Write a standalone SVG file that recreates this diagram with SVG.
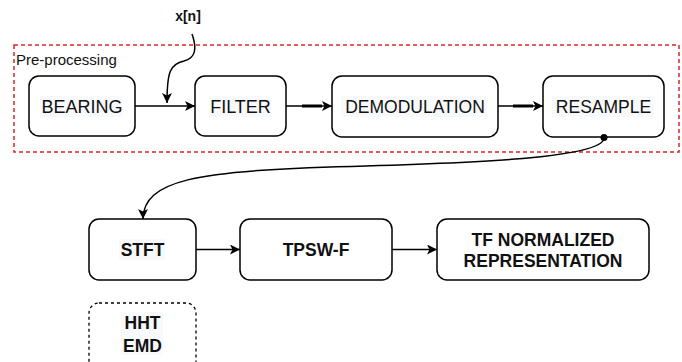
<svg xmlns="http://www.w3.org/2000/svg" width="682" height="362" viewBox="0 0 682 362">
<style>
.box{fill:#ffffff;stroke:#000000;stroke-width:1.5}
.dbox{fill:#ffffff;stroke:#000000;stroke-width:1.3;stroke-dasharray:3 3}
.grp{fill:none;stroke:#d62728;stroke-width:1.5;stroke-dasharray:4 3}
.lbl{font-family:"Liberation Sans",Arial,sans-serif;font-size:18px;fill:#111111;text-anchor:middle}
.bl{font-family:"Liberation Sans",Arial,sans-serif;font-size:17.5px;font-weight:bold;fill:#111111;text-anchor:middle}
.hl{fill:#f8f9fa}
.ln{fill:none;stroke:#000000;stroke-width:1.5}
.thick{fill:none;stroke:#000000;stroke-width:3}
</style>
<defs>
<marker id="arr" viewBox="0 0 10 10" refX="10" refY="5" markerWidth="10" markerHeight="10" markerUnits="userSpaceOnUse" orient="auto">
<path d="M0,0 L10,5 L0,10 L2.5,5 Z" fill="#000000"/>
</marker>
</defs>
<g id="preprocessing">
<rect class="grp" x="14" y="45" width="665" height="107"/>
<text x="16" y="65" font-family="'Liberation Sans',Arial,sans-serif" font-size="15" fill="#111111">Pre-processing</text>
</g>
<g id="xn">
<text x="188" y="21" font-family="'Liberation Sans',Arial,sans-serif" font-size="14" font-weight="bold" fill="#111111" text-anchor="middle">x[n]</text>
</g>
<g id="bearing">
<rect class="box" x="29" y="76" width="106" height="60" rx="10"/>
<rect class="hl" x="40" y="96" width="82" height="21"/>
<text class="lbl" x="82" y="113">BEARING</text>
</g>
<g id="filter">
<rect class="box" x="195" y="76" width="91" height="60" rx="10"/>
<rect class="hl" x="209" y="96" width="62" height="21"/>
<text class="lbl" x="240.5" y="113">FILTER</text>
</g>
<g id="demodulation">
<rect class="box" x="332" y="76" width="166" height="61" rx="10"/>
<rect class="hl" x="341" y="96" width="146" height="21"/>
<text class="lbl" x="415" y="113" style="font-size:17.5px">DEMODULATION</text>
</g>
<g id="resample">
<rect class="box" x="543" y="76" width="121" height="61" rx="10"/>
<rect class="hl" x="552" y="96" width="102" height="21"/>
<text class="lbl" x="603.5" y="113" style="font-size:17.5px">RESAMPLE</text>
</g>
<g id="stft">
<rect class="box" x="89" y="219" width="107" height="61" rx="10"/>
<rect class="hl" x="119" y="239" width="46" height="21"/>
<text class="bl" x="142.5" y="256">STFT</text>
</g>
<g id="tpswf">
<rect class="box" x="240" y="219" width="152" height="61" rx="10"/>
<text class="bl" x="316" y="256">TPSW-F</text>
</g>
<g id="tfnorm">
<rect class="box" x="437" y="219" width="212" height="61" rx="10"/>
<text class="bl" x="543" y="246">TF NORMALIZED</text>
<text class="bl" x="543" y="267">REPRESENTATION</text>
</g>
<g id="hht">
<rect class="dbox" x="89" y="303" width="107" height="75" rx="10"/>
<rect class="hl" x="121" y="312" width="42" height="43"/>
<text class="bl" x="142.5" y="329">HHT</text>
<text class="bl" x="142.5" y="352">EMD</text>
</g>
<g id="connectors">
<line class="ln" x1="135" y1="106" x2="195" y2="106" marker-end="url(#arr)"/>
<line class="ln" x1="286" y1="106" x2="332" y2="106" marker-end="url(#arr)"/>
<line class="thick" x1="302" y1="106" x2="322" y2="106"/>
<line class="ln" x1="498" y1="106" x2="543" y2="106" marker-end="url(#arr)"/>
<line class="thick" x1="513" y1="106" x2="533" y2="106"/>
<path class="ln" d="M192,34 C197,48 196,58 184,61 C170,64 167,72 167,103" marker-end="url(#arr)"/>
<circle cx="604" cy="137.5" r="3.5" fill="#000000"/>
<path class="ln" d="M604,138 C604,160 440,164 330,167 C200,171 143,180 143,219" marker-end="url(#arr)"/>
<line class="ln" x1="196" y1="249.5" x2="240" y2="249.5" marker-end="url(#arr)"/>
<line class="ln" x1="392" y1="249.5" x2="437" y2="249.5" marker-end="url(#arr)"/>
</g>
</svg>
